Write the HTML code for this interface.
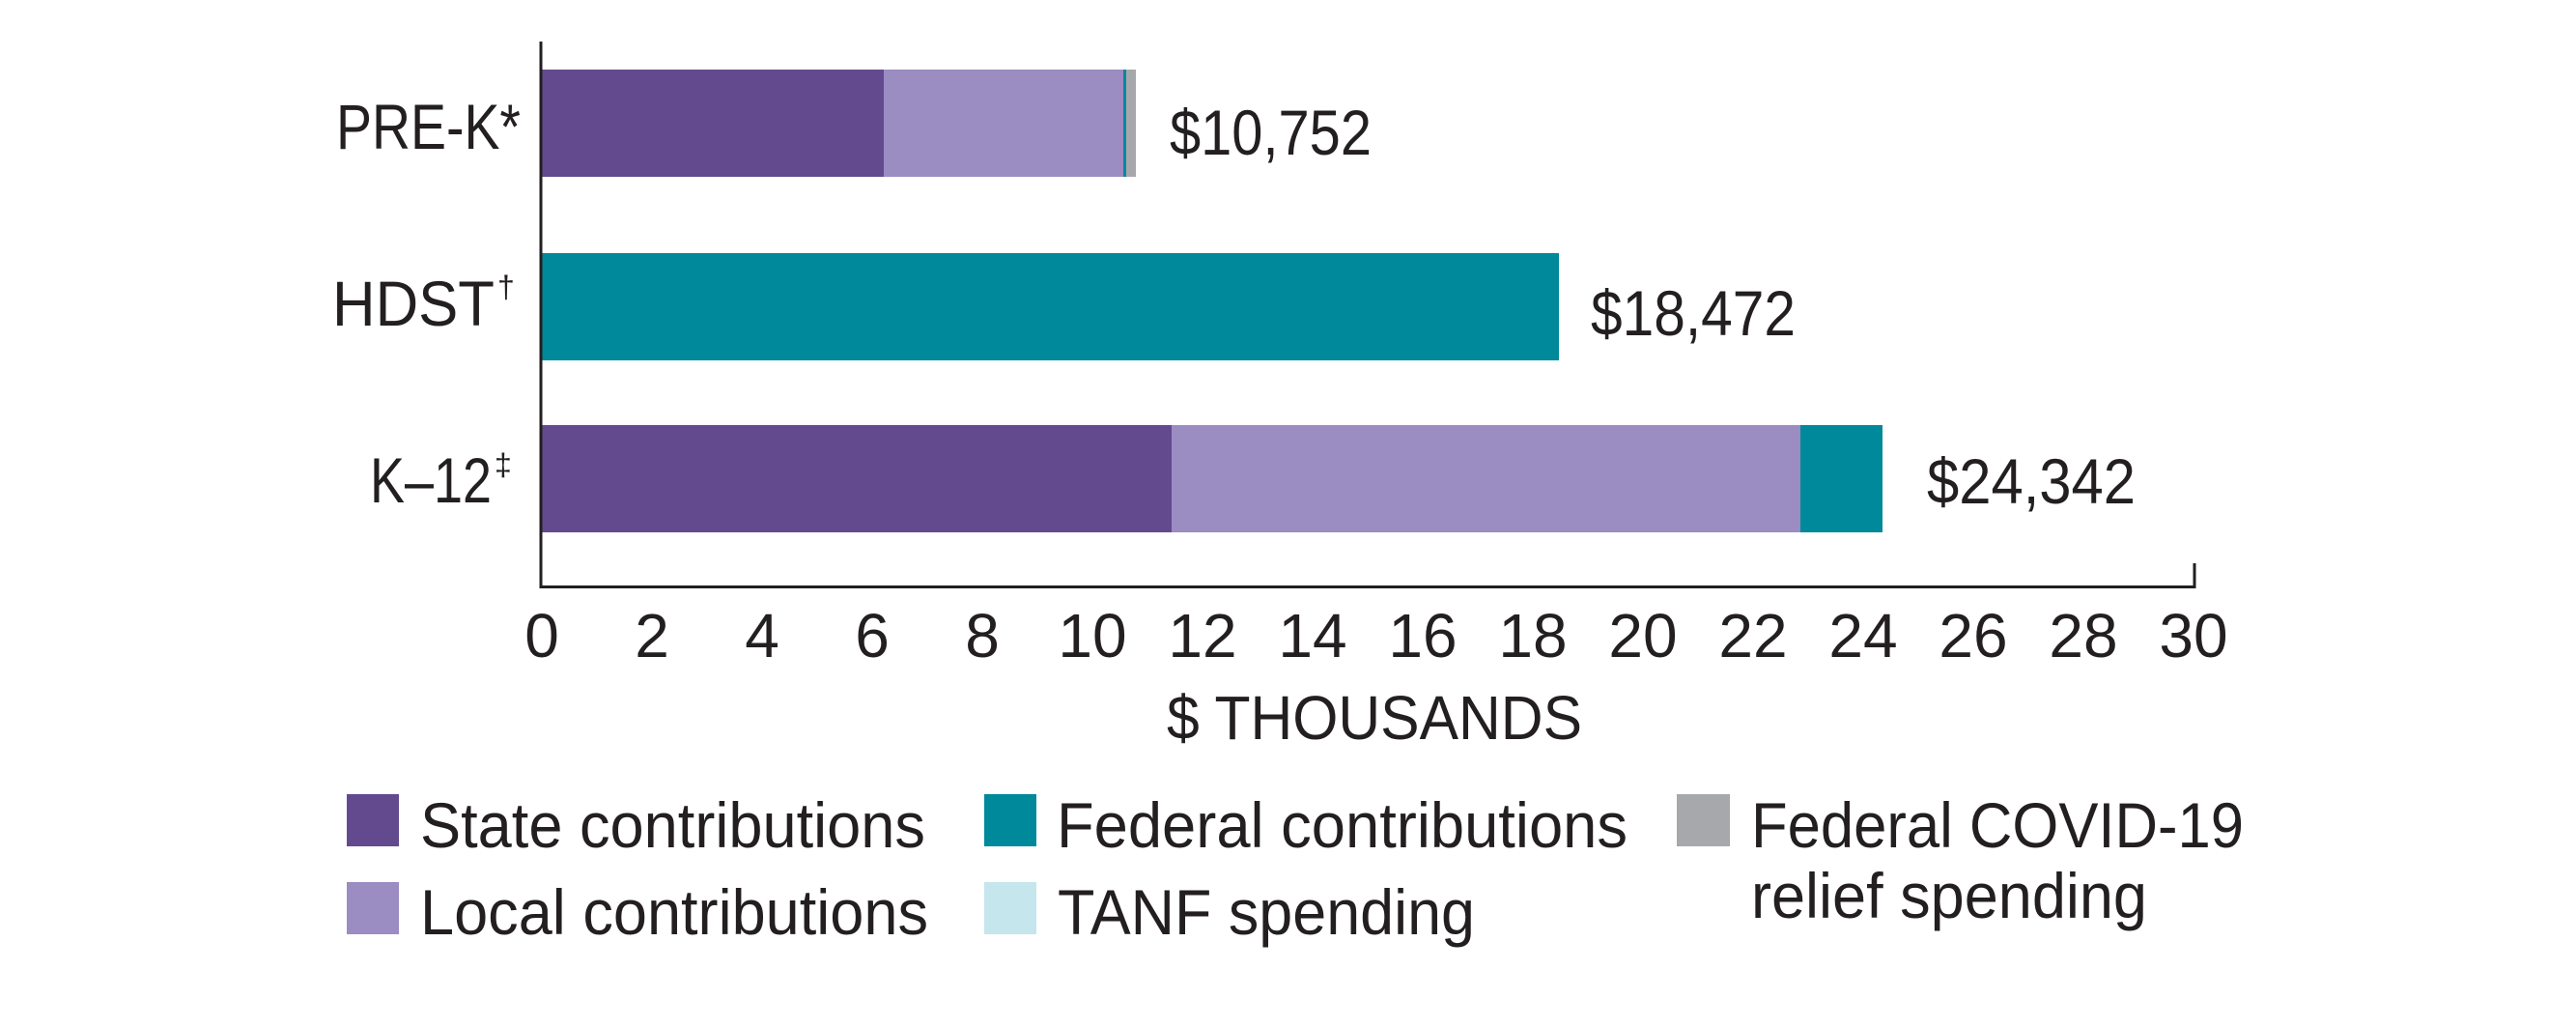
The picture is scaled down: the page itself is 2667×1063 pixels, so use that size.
<!DOCTYPE html>
<html><head><meta charset="utf-8"><style>
html,body{margin:0;padding:0;background:#fff;}
svg{display:block;}
text{font-family:"Liberation Sans",sans-serif;fill:#231f20;}
</style></head><body>
<svg width="2667" height="1063" viewBox="0 0 2667 1063" xmlns="http://www.w3.org/2000/svg">
<!-- bars -->
<rect x="561" y="72" width="354" height="111" fill="#634a8f"/>
<rect x="915" y="72" width="248" height="111" fill="#9b8cc2"/>
<rect x="1163" y="72" width="3" height="111" fill="#00899b"/>
<rect x="1166" y="72" width="10" height="111" fill="#a7a8ab"/>
<rect x="561" y="262" width="1053" height="111" fill="#00899b"/>
<rect x="561" y="440" width="652" height="111" fill="#634a8f"/>
<rect x="1213" y="440" width="651" height="111" fill="#9b8cc2"/>
<rect x="1864" y="440" width="85" height="111" fill="#00899b"/>
<!-- axes -->
<line x1="560" y1="43" x2="560" y2="609" stroke="#231f20" stroke-width="3"/>
<line x1="559" y1="607.5" x2="2273" y2="607.5" stroke="#231f20" stroke-width="3"/>
<line x1="2272" y1="583" x2="2272" y2="609" stroke="#231f20" stroke-width="3"/>
<!-- category labels -->
<g font-size="66">
<text x="348" y="154" textLength="191" lengthAdjust="spacingAndGlyphs">PRE-K*</text>
<text x="344" y="337" textLength="168" lengthAdjust="spacingAndGlyphs">HDST</text><text x="515" y="308" font-size="32">†</text>
<text x="383" y="520" textLength="126" lengthAdjust="spacingAndGlyphs">K–12</text><text x="512" y="492" font-size="32">‡</text>
</g>
<!-- value labels -->
<g font-size="66">
<text x="1211" y="160" textLength="209" lengthAdjust="spacingAndGlyphs">$10,752</text>
<text x="1647" y="347" textLength="212" lengthAdjust="spacingAndGlyphs">$18,472</text>
<text x="1995" y="521" textLength="216" lengthAdjust="spacingAndGlyphs">$24,342</text>
</g>
<!-- ticks -->
<g font-size="64" text-anchor="middle">
<text x="561" y="680">0</text><text x="675" y="680">2</text><text x="789" y="680">4</text>
<text x="903" y="680">6</text><text x="1017" y="680">8</text><text x="1131" y="680">10</text>
<text x="1245" y="680">12</text><text x="1359" y="680">14</text><text x="1473" y="680">16</text>
<text x="1587" y="680">18</text><text x="1701" y="680">20</text><text x="1815" y="680">22</text>
<text x="1929" y="680">24</text><text x="2043" y="680">26</text><text x="2157" y="680">28</text>
<text x="2271" y="680">30</text>
</g>
<text x="1208" y="765" font-size="64" textLength="430" lengthAdjust="spacingAndGlyphs">$ THOUSANDS</text>
<!-- legend -->
<rect x="359" y="822" width="54" height="54" fill="#634a8f"/>
<rect x="359" y="913" width="54" height="54" fill="#9b8cc2"/>
<rect x="1019" y="822" width="54" height="54" fill="#00899b"/>
<rect x="1019" y="913" width="54" height="54" fill="#c5e6ec"/>
<rect x="1736" y="822" width="55" height="54" fill="#a7a8ab"/>
<g font-size="66">
<text x="435" y="877" textLength="523" lengthAdjust="spacingAndGlyphs">State contributions</text>
<text x="435" y="967" textLength="526" lengthAdjust="spacingAndGlyphs">Local contributions</text>
<text x="1094" y="877" textLength="591" lengthAdjust="spacingAndGlyphs">Federal contributions</text>
<text x="1095" y="967" textLength="432" lengthAdjust="spacingAndGlyphs">TANF spending</text>
<text x="1813" y="877" textLength="510" lengthAdjust="spacingAndGlyphs">Federal COVID-19</text>
<text x="1813" y="950" textLength="410" lengthAdjust="spacingAndGlyphs">relief spending</text>
</g>
</svg>
</body></html>
